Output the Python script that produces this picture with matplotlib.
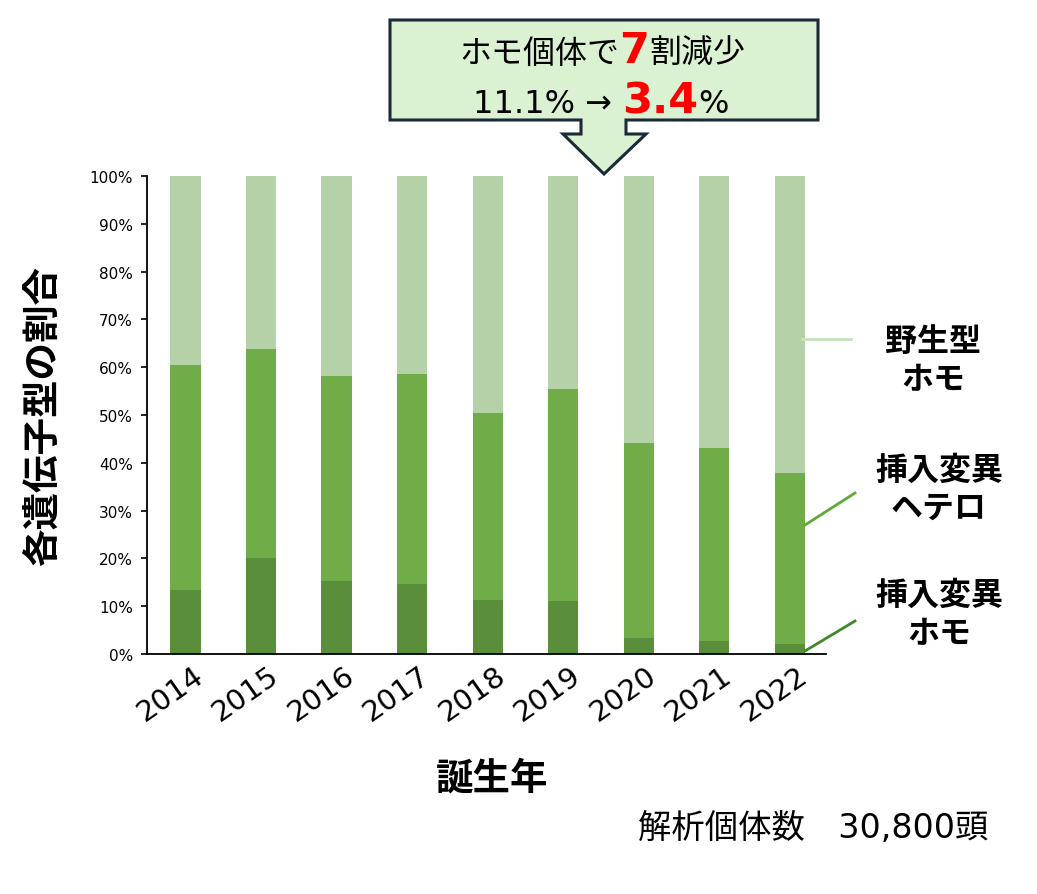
import numpy as np
import matplotlib
matplotlib.use('Agg')
import matplotlib.pyplot as plt
from matplotlib.patches import Polygon
from matplotlib.transforms import ScaledTranslation

plt.rcParams['font.family'] = ['Noto Sans CJK JP', 'DejaVu Sans']
LATIN = ['DejaVu Sans', 'Noto Sans CJK JP']

years = ['2014', '2015', '2016', '2017', '2018', '2019', '2020', '2021', '2022']
# percent of each genotype per birth year
homo_ins = [13.4, 20.1, 15.3, 14.6, 11.2, 11.0, 3.3, 2.7, 2.1]
hetero_ins = [47.1, 43.8, 42.9, 44.0, 39.2, 44.5, 40.8, 40.3, 35.8]
wild_homo = [100 - a - b for a, b in zip(homo_ins, hetero_ins)]

c_homo = '#5b8e3a'
c_hetero = '#70ac47'
c_wild = '#b5d1a8'

fig = plt.figure(figsize=(10.37, 8.95), dpi=100)
ax = fig.add_axes([147 / 1037, 1 - 655 / 895, 679 / 1037, 478 / 895])

x = np.arange(len(years))
w = 0.40
ax.bar(x, homo_ins, w, color=c_homo)
ax.bar(x, hetero_ins, w, bottom=homo_ins, color=c_hetero)
ax.bar(x, wild_homo, w, bottom=np.array(homo_ins) + np.array(hetero_ins), color=c_wild)

ax.set_xlim(-0.51, 8.48)
ax.set_ylim(0, 100)
ax.set_yticks(np.arange(0, 101, 10))
ax.set_yticklabels(['{}%'.format(v) for v in range(0, 101, 10)], fontsize=11,
                   family=LATIN)
ax.set_xticks(x)
ax.set_xticklabels(years, fontsize=21, rotation=35, ha='right', va='center',
                   rotation_mode='anchor', family=LATIN)
ax.tick_params(axis='x', length=0, pad=13)
ax.tick_params(axis='y', length=4, width=1.2, pad=6)
# nudge the rotated year labels to the right (after tick_params, which resets transforms)
off = ScaledTranslation(15 / 100, 0, fig.dpi_scale_trans)
for lab in ax.get_xticklabels():
    lab.set_transform(lab.get_transform() + off)
for s in ['top', 'right']:
    ax.spines[s].set_visible(False)
for s in ['left', 'bottom']:
    ax.spines[s].set_linewidth(1.3)

fig.text(42 / 1037, 1 - 416 / 895, '各遺伝子型の割合', rotation=90, fontsize=27,
         fontweight='bold', ha='center', va='center')
fig.text(492 / 1037, 1 - 778 / 895, '誕生年', fontsize=27, fontweight='bold',
         ha='center', va='center')
fig.text(813 / 1037, 1 - 829 / 895, '解析個体数\u300030,800頭', fontsize=24,
         ha='center', va='center', family=LATIN)


def fx(px):
    return px / 1037


def fy(py):
    return 1 - py / 895


# legend lines and labels on the right
fig.add_artist(plt.Line2D([fx(802), fx(851)], [fy(340), fy(340)], color='#c5e3b8', lw=2))
fig.add_artist(plt.Line2D([fx(805), fx(855)], [fy(526), fy(494)], color='#5aab37', lw=2))
fig.add_artist(plt.Line2D([fx(805), fx(855)], [fy(652), fy(622)], color='#3e8a2a', lw=2))
fig.text(fx(933), fy(361), '野生型\nホモ', fontsize=23, fontweight='bold',
         ha='center', va='center', linespacing=1.25)
fig.text(fx(939), fy(490), '挿入変異\nヘテロ', fontsize=23, fontweight='bold',
         ha='center', va='center', linespacing=1.25)
fig.text(fx(939), fy(615), '挿入変異\nホモ', fontsize=23, fontweight='bold',
         ha='center', va='center', linespacing=1.25)

# callout box with downward arrow
box = [(390, 21), (818, 21), (818, 121), (626, 121), (626, 135), (646, 135),
       (604, 175), (563, 135), (581, 135), (581, 121), (390, 121)]
fig.add_artist(Polygon([(fx(a), fy(b)) for a, b in box], closed=True,
                       facecolor='#daf1d2', edgecolor='#1b2a38', lw=2.2,
                       transform=fig.transFigure))


def mixed_line(parts, cx, cy):
    texts = []
    for s, size, color, weight in parts:
        t = fig.text(0, fy(cy), s, fontsize=size, color=color, fontweight=weight,
                     va='baseline', ha='left', family=LATIN)
        texts.append(t)
    fig.canvas.draw()
    r = fig.canvas.get_renderer()
    widths = [t.get_window_extent(r).width for t in texts]
    total = sum(widths)
    left = cx - total / 2
    for t, wd in zip(texts, widths):
        t.set_x(left / 1037)
        left += wd


mixed_line([('ホモ個体で', 23, 'black', 'normal'), ('7', 31, '#ff0000', 'bold'),
            ('割減少', 23, 'black', 'normal')], 602, 63)
mixed_line([('11.1% → ', 23, 'black', 'normal'), ('3.4', 31, '#ff0000', 'bold'),
            ('%', 23, 'black', 'normal')], 601, 113)

fig.savefig('out.png', dpi=100)
